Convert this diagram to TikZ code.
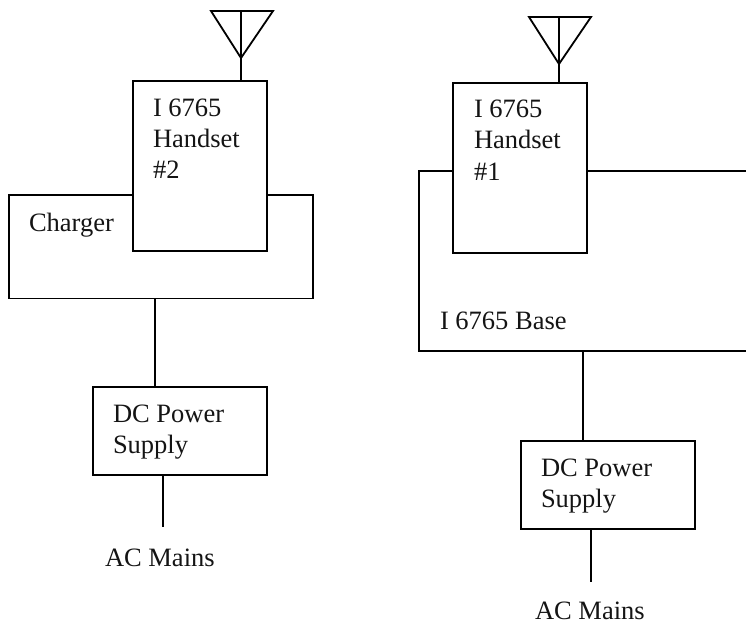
\documentclass[tikz,border=0pt]{standalone}
\usepackage{fontspec}
\setmainfont{Liberation Serif}
\tikzset{
  wire/.style={draw=black,line width=1.8pt,line cap=butt,line join=miter},
  boxy/.style={draw=black,line width=2pt,inner sep=0pt,outer sep=0pt},
  lab/.style={inner sep=0pt,outer sep=0pt,font=\fontsize{26.5pt}{30pt}\selectfont,anchor=base west,text=black!92}
}
\begin{document}
\begin{tikzpicture}[x=1pt,y=-1pt]
\useasboundingbox (0,0) rectangle (746,624);
% left: handset #2, charger, power supply
\coordinate (aL1) at (211,11);
\coordinate (aL2) at (273,11);
\coordinate (aL3) at (241,58);
\coordinate (aL0) at (241,11);
\node[boxy,minimum width=134pt,minimum height=169.5pt] (hs2) at (200,165.75) {};
\coordinate (aLf) at (241,81);
\draw[wire] (aL1) -- (aL2) -- (aL3) -- cycle;
\draw[wire] (aL0) -- (aLf);
\coordinate (ch1) at (133,195);
\coordinate (ch2) at (9,195);
\coordinate (ch3) at (9,298.5);
\coordinate (ch4) at (313,298.5);
\coordinate (ch5) at (313,195);
\coordinate (ch6) at (267,195);
\draw[wire] (ch1) -- (ch2) -- (ch3) -- (ch4) -- (ch5) -- (ch6);
\node[lab] (t1) at (153,116) {I 6765};
\node[lab] (t2) at (153,147) {Handset};
\node[lab] (t3) at (153,178) {\#2};
\node[lab] (t4) at (29,231) {Charger};
\node[boxy,minimum width=174pt,minimum height=88pt] (dc2) at (180,431) {};
\coordinate (c1) at (155,298.5);
\coordinate (c2) at (155,387);
\draw[wire] (c1) -- (c2);
\node[lab] (t5) at (113,422) {DC Power};
\node[lab] (t6) at (113,453) {Supply};
\coordinate (c3) at (163,475);
\coordinate (c4) at (163,527);
\draw[wire] (c3) -- (c4);
\node[lab] (t7) at (105,566) {AC Mains};
% right: handset #1, base, power supply
\coordinate (aR1) at (529,17);
\coordinate (aR2) at (591,17);
\coordinate (aR3) at (559,64);
\coordinate (aR0) at (559,17);
\node[boxy,minimum width=134pt,minimum height=170pt] (hs1) at (520,168) {};
\coordinate (aRf) at (559,83);
\draw[wire] (aR1) -- (aR2) -- (aR3) -- cycle;
\draw[wire] (aR0) -- (aRf);
\coordinate (b1) at (453,171);
\coordinate (b2) at (419,171);
\coordinate (b3) at (419,351);
\coordinate (b4) at (747,351);
\coordinate (b5) at (587,171);
\coordinate (b6) at (747,171);
\draw[wire] (b1) -- (b2) -- (b3) -- (b4);
\draw[wire] (b5) -- (b6);
\node[lab] (t8) at (474,117) {I 6765};
\node[lab] (t9) at (474,148) {Handset};
\node[lab] (t10) at (474,180) {\#1};
\node[lab] (t11) at (440,329) {I 6765 Base};
\node[boxy,minimum width=174pt,minimum height=88pt] (dc1) at (608,485) {};
\coordinate (d1) at (583,351);
\coordinate (d2) at (583,441);
\draw[wire] (d1) -- (d2);
\node[lab] (t12) at (541,476) {DC Power};
\node[lab] (t13) at (541,507) {Supply};
\coordinate (d3) at (591,529);
\coordinate (d4) at (591,582);
\draw[wire] (d3) -- (d4);
\node[lab] (t14) at (535,619) {AC Mains};
\end{tikzpicture}
\end{document}
